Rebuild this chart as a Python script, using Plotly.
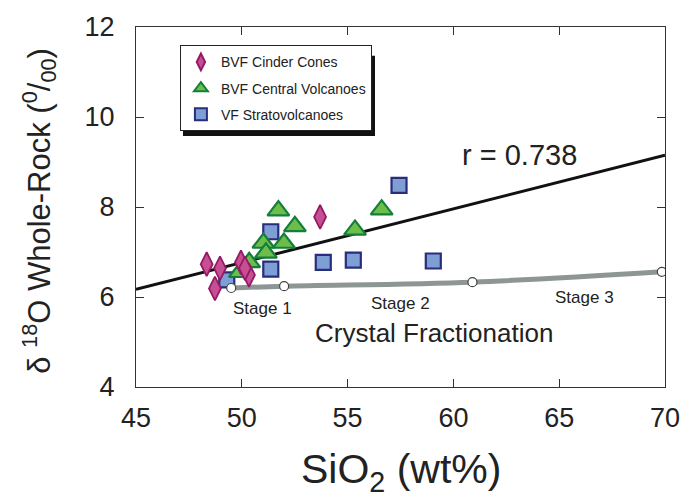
import plotly.graph_objects as go

# SiO2 (wt%) and whole-rock d18O (permil) by volcano group
cinder_sio2 = [48.34, 48.97, 48.73, 49.96, 50.34, 50.15, 53.70]
cinder_d18o = [6.73, 6.64, 6.19, 6.77, 6.49, 6.64, 7.78]

central_sio2 = [51.73, 52.51, 51.02, 51.99, 51.14, 50.35, 49.91, 55.35, 56.61]
central_d18o = [7.92, 7.57, 7.20, 7.20, 6.98, 6.77, 6.55, 7.49, 7.94]

strato_sio2 = [57.43, 51.37, 51.37, 53.85, 55.27, 59.05, 49.29]
strato_d18o = [8.48, 7.45, 6.62, 6.77, 6.82, 6.80, 6.38]

# Regression line end points
fit_sio2 = [45, 70]
fit_d18o = [6.17, 9.15]

# Crystal fractionation path with stage nodes
frac_sio2 = [49.5, 52.0, 60.9, 69.85]
frac_d18o = [6.20, 6.24, 6.33, 6.56]

xticks = [45, 50, 55, 60, 65, 70]
yticks = [4, 6, 8, 10, 12]

FONT = "Liberation Sans, Arial, sans-serif"
INK = "#222222"

fig = go.Figure()

fig.add_trace(go.Scatter(
    x=fit_sio2, y=fit_d18o, mode="lines",
    line=dict(color="#111111", width=3), showlegend=False, hoverinfo="skip"))

fig.add_trace(go.Scatter(
    x=frac_sio2, y=frac_d18o, mode="lines",
    line=dict(color="#8e9595", width=5, shape="spline"),
    showlegend=False, hoverinfo="skip"))

fig.add_trace(go.Scatter(
    x=strato_sio2, y=strato_d18o, mode="markers", name="VF Stratovolcanoes",
    legendgroup="strato", legendrank=3,
    marker=dict(symbol="square", size=15, color="#7d9fd6",
                line=dict(color="#2a2c7c", width=2.2))))

fig.add_trace(go.Scatter(
    x=central_sio2, y=central_d18o, mode="markers", name="BVF Central Volcanoes",
    legendgroup="central", legendrank=2,
    marker=dict(symbol="triangle-up", size=19, color="#6dbd4b",
                line=dict(color="#137f3a", width=2.2))))

fig.add_trace(go.Scatter(
    x=cinder_sio2, y=cinder_d18o, mode="markers", name="BVF Cinder Cones",
    legendgroup="cinder", legendrank=1,
    marker=dict(symbol="diamond-tall", size=17, color="#c54f92",
                line=dict(color="#951a65", width=1.8))))

fig.add_trace(go.Scatter(
    x=frac_sio2, y=frac_d18o, mode="markers", showlegend=False, hoverinfo="skip",
    marker=dict(symbol="circle", size=9, color="white",
                line=dict(color="#444444", width=1.2))))

# Legend drop shadow
fig.add_shape(type="rect", xref="paper", yref="paper",
              x0=0.0888, x1=0.4518, y0=0.697, y1=0.92,
              fillcolor="#111111", line=dict(width=0), layer="below")

axis_common = dict(
    showline=True, linecolor="#333333", linewidth=1.2, mirror="ticks",
    ticks="inside", ticklen=8, tickwidth=1.2, tickcolor="#333333",
    showgrid=False, zeroline=False,
    tickfont=dict(family=FONT, size=27, color=INK))

fig.update_xaxes(range=[45, 70], tickvals=xticks, ticklabelstandoff=6, **axis_common)
fig.update_yaxes(range=[4, 12], tickvals=yticks, ticklabelstandoff=15, **axis_common)

annotations = [
    dict(x=63.1, y=9.15, text="r = 0.738", font=dict(size=29)),
    dict(x=51.0, y=5.75, text="Stage 1", font=dict(size=17)),
    dict(x=57.5, y=5.86, text="Stage 2", font=dict(size=17)),
    dict(x=66.2, y=6.00, text="Stage 3", font=dict(size=17)),
    dict(x=59.1, y=5.20, text="Crystal Fractionation", font=dict(size=26)),
]
for a in annotations:
    a["font"].update(family=FONT, color=INK)
    fig.add_annotation(xref="x", yref="y", showarrow=False, **a)

fig.add_annotation(xref="paper", yref="paper", x=0.5, y=-0.235, yanchor="middle",
                   text="SiO<sub>2</sub> (wt%)", showarrow=False,
                   font=dict(family=FONT, size=41, color=INK))
fig.add_annotation(xref="paper", yref="paper", x=-0.183, xanchor="center",
                   y=0.49, yanchor="middle", textangle=-90,
                   text="δ <sup>18</sup>O Whole-Rock (<sup>0</sup>/<sub>00</sub>)",
                   showarrow=False,
                   font=dict(family=FONT, size=31, color=INK))

fig.update_layout(
    width=696, height=500,
    margin=dict(l=136, r=31, t=17, b=113),
    paper_bgcolor="white", plot_bgcolor="white",
    legend=dict(x=0.083, y=0.949, xanchor="left", yanchor="top",
                bgcolor="white", bordercolor=INK, borderwidth=1,
                traceorder="grouped", itemsizing="constant",
                font=dict(family=FONT, size=14, color=INK),
                tracegroupgap=5),
)

fig.write_html("out.html")
